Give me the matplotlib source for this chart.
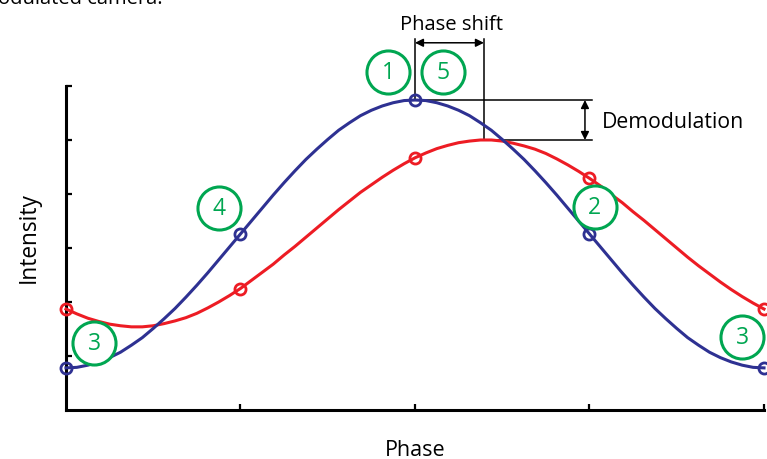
import numpy as np
import matplotlib
matplotlib.use("Agg")
import matplotlib.pyplot as plt

plt.rcParams['font.family'] = ['Open Sans', 'DejaVu Sans']

# phase samples (curve) and marker positions
phase = np.arange(65) * 0.0625
blue_curve = [0.78, 0.79, 0.83, 0.89, 0.97, 1.07, 1.20, 1.34, 1.51, 1.69, 1.88,
              2.09, 2.31, 2.54, 2.78, 3.02, 3.26, 3.50, 3.74, 3.98, 4.21, 4.43,
              4.64, 4.83, 5.01, 5.18, 5.32, 5.45, 5.55, 5.63, 5.69, 5.73, 5.74,
              5.73, 5.69, 5.63, 5.55, 5.45, 5.32, 5.18, 5.01, 4.83, 4.64, 4.43,
              4.21, 3.98, 3.74, 3.50, 3.26, 3.02, 2.78, 2.54, 2.31, 2.09, 1.88,
              1.69, 1.51, 1.34, 1.20, 1.07, 0.97, 0.89, 0.83, 0.79, 0.78]
red_curve = [1.87, 1.78, 1.70, 1.64, 1.59, 1.56, 1.54, 1.54, 1.56, 1.60, 1.65,
             1.71, 1.79, 1.89, 2.00, 2.12, 2.25, 2.40, 2.55, 2.70, 2.87, 3.03,
             3.20, 3.37, 3.54, 3.71, 3.87, 4.03, 4.17, 4.31, 4.44, 4.56, 4.67,
             4.76, 4.84, 4.90, 4.95, 4.98, 5.00, 5.00, 4.98, 4.94, 4.89, 4.83,
             4.75, 4.65, 4.54, 4.42, 4.29, 4.15, 3.99, 3.84, 3.67, 3.51, 3.34,
             3.17, 3.00, 2.83, 2.67, 2.52, 2.37, 2.23, 2.10, 1.98, 1.87]
sample_x = [0, 1, 2, 3, 4]
blue_pts = [0.78, 3.26, 5.74, 3.26, 0.78]
red_pts = [1.87, 2.25, 4.67, 4.29, 1.87]

# numbered step labels
step_labels = ['1', '5', '4', '3', '2', '3']
step_x = [1.845, 2.16, 0.877, 0.161, 3.03, 3.874]
step_y = [6.26, 6.26, 3.74, 1.24, 3.76, 1.35]

blue_peak = (2.0, 5.74)
red_peak = (2.395, 5.00)

BLUE = '#2e3192'
RED = '#ed1c24'
GREEN = '#00a651'

fig = plt.figure(figsize=(7.67, 4.6), dpi=100)
ax = fig.add_axes([0.0860, 0.1065, 0.9101, 0.7044])

ax.plot(phase, red_curve, color=RED, lw=2.2, clip_on=False, zorder=3)
ax.plot(phase, blue_curve, color=BLUE, lw=2.2, clip_on=False, zorder=4)
ax.plot(sample_x, red_pts, 'o', ms=8, mfc='none', mec=RED, mew=2.0,
        clip_on=False, zorder=5)
ax.plot(sample_x, blue_pts, 'o', ms=8, mfc='none', mec=BLUE, mew=2.0,
        clip_on=False, zorder=6)

ax.scatter(step_x, step_y, s=31 ** 2, facecolor='white', edgecolor=GREEN,
           linewidth=2.2, clip_on=False, zorder=7)
for lab, x, y in zip(step_labels, step_x, step_y):
    ax.text(x, y, lab, color=GREEN, fontsize=16.5, ha='center', va='center',
            zorder=8, clip_on=False)

arrow_style = dict(arrowstyle='<|-|>', color='black', lw=1.1,
                   shrinkA=0, shrinkB=0, mutation_scale=12)

# phase shift annotation
top = 6.87
ax.plot([blue_peak[0], blue_peak[0]], [blue_peak[1], top], color='black', lw=1.1,
        clip_on=False, zorder=2)
ax.plot([red_peak[0], red_peak[0]], [red_peak[1], top], color='black', lw=1.1,
        clip_on=False, zorder=2)
ax.annotate('', xy=(red_peak[0], 6.80), xytext=(blue_peak[0], 6.80),
            arrowprops=arrow_style, annotation_clip=False)
ax.text(2.21, 7.056, 'Phase shift', ha='center', va='baseline', fontsize=14.6)

# demodulation annotation
right = 3.014
ax.plot([blue_peak[0], right], [blue_peak[1], blue_peak[1]], color='black',
        lw=1.1, clip_on=False, zorder=2)
ax.plot([red_peak[0], right], [red_peak[1], red_peak[1]], color='black',
        lw=1.1, clip_on=False, zorder=2)
ax.annotate('', xy=(2.974, red_peak[1]), xytext=(2.974, blue_peak[1]),
            arrowprops=arrow_style, annotation_clip=False)
ax.text(3.07, 5.235, 'Demodulation', ha='left', va='baseline', fontsize=15.3)

ax.set_xlim(0, 4)
ax.set_ylim(0, 6)
ax.set_xticks([1, 2, 3, 4])
ax.set_yticks([1, 2, 3, 4, 5, 6])
ax.set_xticklabels([])
ax.set_yticklabels([])
ax.tick_params(direction='in', length=4, width=1.6)
for s in ['top', 'right']:
    ax.spines[s].set_visible(False)
for s in ['left', 'bottom']:
    ax.spines[s].set_linewidth(2.2)

fig.text(415 / 767, 1 - 455.7 / 460, 'Phase', ha='center', va='baseline',
         fontsize=15.5)
fig.text(29 / 767, 1 - 237.5 / 460, 'Intensity', ha='center', va='center',
         rotation=90, fontsize=16.3)

fig.text(-0.002, 1 - 4.5 / 460, 'odulated camera.', ha='left', va='baseline',
         fontsize=14.5)

fig.savefig('out.png', dpi=100)
